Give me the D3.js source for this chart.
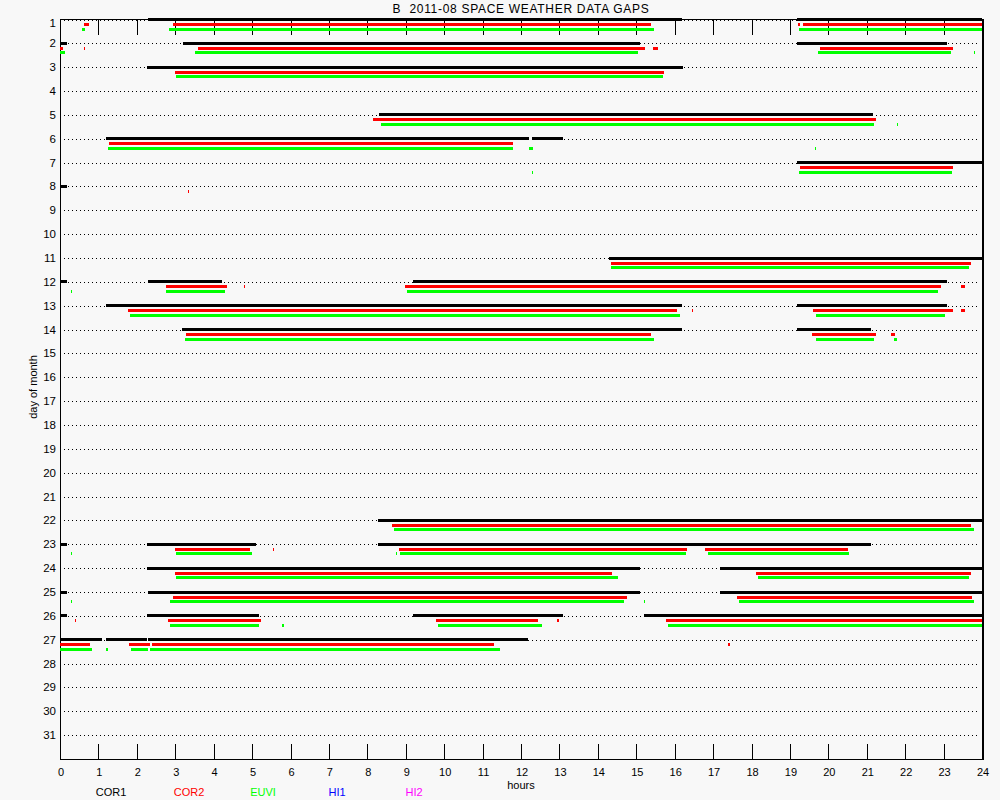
<!DOCTYPE html>
<html>
<head>
<meta charset="utf-8">
<script src="https://cdn.jsdelivr.net/npm/d3@7"></script>
<style>
  html, body { margin: 0; padding: 0; background: #f8f8f8; }
  svg { display: block; }
  text { font-family: "Liberation Sans", Arial, sans-serif; fill: #000; }
</style>
</head>
<body>
<script>
// ---------------- DATA ----------------
const titleText = "B  2011-08 SPACE WEATHER DATA GAPS";
const days = d3.range(1, 32);            // 1..31
const hourTicks = d3.range(0, 25);       // 0..24
const instruments = ["COR1", "COR2", "EUVI", "HI1", "HI2"];
const instrumentColors = ["#000000", "#ff0000", "#00ff00", "#0000ff", "#ff00ff"];

// gaps: [day, startHour, endHour]
const cor1Gaps = [
  [1, 2.30, 16.18], [1, 19.18, 24],
  [2, 0, 0.18], [2, 3.20, 15.10], [2, 19.18, 23.09],
  [3, 2.26, 16.22],
  [5, 8.30, 21.16],
  [6, 1.20, 12.21], [6, 12.29, 13.09],
  [7, 19.18, 24],
  [8, 0, 0.18],
  [11, 14.29, 24],
  [12, 0, 0.18], [12, 2.29, 4.22], [12, 9.19, 23.09],
  [13, 1.20, 16.19], [13, 19.18, 23.09],
  [14, 3.18, 16.19], [14, 19.18, 21.11],
  [22, 8.28, 24],
  [23, 0, 0.18], [23, 2.26, 5.10], [23, 8.28, 21.11],
  [24, 2.26, 15.10], [24, 17.18, 24],
  [25, 0, 0.18], [25, 2.29, 15.10], [25, 17.18, 24],
  [26, 0, 0.18], [26, 2.26, 5.18], [26, 9.19, 13.09], [26, 15.20, 24],
  [27, 0, 1.09], [27, 1.20, 2.26], [27, 2.29, 12.18]
];
const cor2Gaps = [
  [1, 0.62, 0.75], [1, 2.94, 15.38], [1, 19.22, 19.25], [1, 19.34, 24],
  [2, 0, 0.08], [2, 0.62, 0.65], [2, 3.59, 15.23], [2, 15.43, 15.56], [2, 19.78, 23.24],
  [3, 2.99, 15.72],
  [5, 8.15, 21.24],
  [6, 1.28, 11.79],
  [7, 19.26, 23.24],
  [8, 3.32, 3.35],
  [11, 14.34, 23.71],
  [12, 2.76, 4.35], [12, 4.78, 4.81], [12, 8.98, 22.93], [12, 23.45, 23.56],
  [13, 1.77, 16.06], [13, 16.44, 16.47], [13, 19.60, 23.24], [13, 23.45, 23.56],
  [14, 3.28, 15.38], [14, 19.58, 21.24], [14, 21.63, 21.73],
  [22, 8.64, 23.71],
  [23, 2.99, 4.95], [23, 5.54, 5.57], [23, 8.82, 16.32], [23, 16.79, 20.51],
  [24, 2.99, 14.37], [24, 18.12, 23.71],
  [25, 2.94, 14.76], [25, 17.62, 23.74],
  [26, 0.38, 0.40], [26, 2.81, 5.23], [26, 9.79, 12.44], [26, 12.95, 12.98], [26, 15.77, 24],
  [27, 0, 0.78], [27, 1.80, 2.34], [27, 2.39, 11.30], [27, 17.40, 17.43]
];
const euviGaps = [
  [1, 0.57, 0.65], [1, 2.85, 15.46], [1, 19.24, 24],
  [2, 0, 0.13], [2, 3.51, 15.04], [2, 19.73, 23.19], [2, 23.78, 23.81],
  [3, 3.02, 15.69],
  [5, 8.36, 21.19], [5, 21.78, 21.81],
  [6, 1.25, 11.79], [6, 12.21, 12.31], [6, 19.64, 19.67],
  [7, 12.28, 12.31], [7, 19.23, 23.22],
  [11, 14.34, 23.66],
  [12, 0.28, 0.31], [12, 2.76, 4.29], [12, 9.03, 22.85],
  [13, 1.82, 16.14], [13, 19.68, 23.03],
  [14, 3.25, 15.46], [14, 19.68, 21.19], [14, 21.71, 21.79],
  [22, 8.69, 23.79],
  [23, 0.28, 0.31], [23, 3.02, 5.00], [23, 8.74, 8.77], [23, 8.85, 16.29], [23, 16.87, 20.54],
  [24, 3.02, 14.52], [24, 18.17, 23.66],
  [25, 0.28, 0.31], [25, 2.86, 14.68], [25, 15.19, 15.22], [25, 17.67, 23.79],
  [26, 2.86, 5.18], [26, 5.79, 5.82], [26, 9.84, 12.55], [26, 15.83, 24],
  [27, 0, 0.83], [27, 1.21, 1.24], [27, 1.85, 2.29], [27, 2.34, 11.45]
];
const hi1Gaps = [];
const hi2Gaps = [];

// ---------------- DRAW ----------------
const W = 1000, H = 800;
const svg = d3.select("body").append("svg").attr("width", W).attr("height", H);
svg.append("rect").attr("width", W).attr("height", H).attr("fill", "#f8f8f8");

const x = d3.scaleLinear().domain([0, 24]).range([60, 982]);
const y = d3.scaleLinear().domain([1, 32]).range([19.5, 759]);

const plotL = 60, plotR = 982, plotT = 19, plotB = 759;

// dotted day lines
svg.append("g").selectAll("line").data(days).join("line")
  .attr("x1", 64).attr("x2", 980)
  .attr("y1", d => Math.round(y(d)) + 0.5).attr("y2", d => Math.round(y(d)) + 0.5)
  .attr("stroke", "#000").attr("stroke-width", 1)
  .attr("stroke-dasharray", "1,3")
  .attr("shape-rendering", "crispEdges");

// day labels
svg.append("g").selectAll("text").data(days).join("text")
  .attr("x", 56).attr("y", d => Math.max(y(d), 23))
  .attr("text-anchor", "end").attr("dominant-baseline", "central")
  .attr("font-size", 11.5).text(d => d);

// axes frame
const frame = svg.append("g").attr("stroke", "#000").attr("shape-rendering", "crispEdges");
frame.append("line").attr("x1", plotL + 0.5).attr("x2", plotL + 0.5).attr("y1", plotT).attr("y2", plotB + 1);
frame.append("line").attr("x1", plotR + 0.5).attr("x2", plotR + 0.5).attr("y1", plotT).attr("y2", plotB + 1).attr("stroke-width", 2);
frame.append("line").attr("x1", plotL).attr("x2", plotR + 1).attr("y1", plotT + 0.5).attr("y2", plotT + 0.5);
frame.append("line").attr("x1", plotL).attr("x2", plotR + 1).attr("y1", plotB + 0.5).attr("y2", plotB + 0.5);

// hour ticks (top & bottom)
const inner = hourTicks.filter(h => h > 0 && h < 24);
frame.append("g").selectAll("line").data(inner).join("line")
  .attr("x1", h => Math.round(x(h)) + 0.5).attr("x2", h => Math.round(x(h)) + 0.5)
  .attr("y1", plotB - 15).attr("y2", plotB);
frame.append("g").selectAll("line").data(inner).join("line")
  .attr("x1", h => Math.round(x(h)) + 0.5).attr("x2", h => Math.round(x(h)) + 0.5)
  .attr("y1", plotT).attr("y2", plotT + 16);

// hour labels
svg.append("g").selectAll("text").data(hourTicks).join("text")
  .attr("x", h => x(h) + 1).attr("y", 772)
  .attr("text-anchor", "middle").attr("dominant-baseline", "central")
  .attr("font-size", 11).text(h => h);

// gap bars
const series = [cor1Gaps, cor2Gaps, euviGaps, hi1Gaps, hi2Gaps];
const offsets = [-1.5, 3.5, 8, 12.5, 17];
series.forEach((gaps, i) => {
  svg.append("g").selectAll("rect").data(gaps).join("rect")
    .attr("x", d => Math.round(x(d[1])))
    .attr("width", d => Math.max(1, Math.round(x(d[2])) - Math.round(x(d[1]))))
    .attr("y", d => Math.round(y(d[0]) + offsets[i]))
    .attr("height", 3)
    .attr("fill", instrumentColors[i])
    .attr("shape-rendering", "crispEdges");
});

// title
svg.append("text").attr("x", 521).attr("y", 9)
  .attr("text-anchor", "middle").attr("dominant-baseline", "central")
  .attr("font-size", 12).attr("letter-spacing", 0.7)
  .style("white-space", "pre").attr("xml:space", "preserve")
  .text(titleText);

// axis titles
svg.append("text").attr("x", 521).attr("y", 785)
  .attr("text-anchor", "middle").attr("dominant-baseline", "central")
  .attr("font-size", 11).text("hours");
svg.append("text")
  .attr("transform", "translate(33,387) rotate(-90)")
  .attr("text-anchor", "middle").attr("dominant-baseline", "central")
  .attr("font-size", 11).text("day of month");

// legend
const legendX = [111, 189, 263, 337, 414];
svg.append("g").selectAll("text").data(instruments).join("text")
  .attr("x", (d, i) => legendX[i]).attr("y", 792)
  .attr("text-anchor", "middle").attr("dominant-baseline", "central")
  .attr("font-size", 11)
  .style("fill", (d, i) => instrumentColors[i])
  .text(d => d);
</script>
</body>
</html>
